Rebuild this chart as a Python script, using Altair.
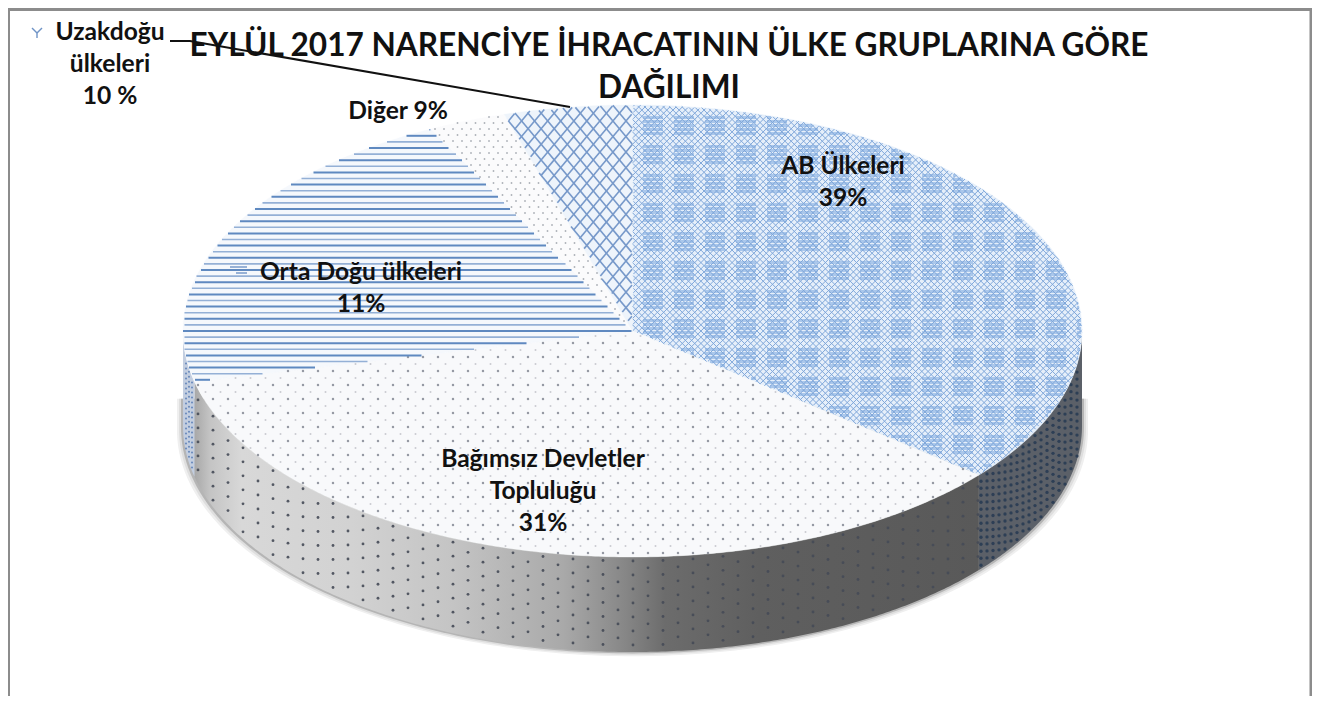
import math
import altair as alt
import pandas as pd

# ---- values ----
title_lines = ["EYLÜL 2017 NARENCİYE İHRACATININ ÜLKE GRUPLARINA GÖRE", "DAĞILIMI"]
categories = ["AB Ülkeleri", "Bağımsız Devletler Topluluğu", "Orta Doğu ülkeleri", "Diğer", "Uzakdoğu ülkeleri"]
# slice sizes as drawn (percent of the full turn, clockwise from 12 o'clock)
drawn_shares = [36.0, 35.4, 21.2, 2.8, 4.6]
label_texts = ["AB Ülkeleri\n39%", "Bağımsız Devletler\nTopluluğu\n31%", "Orta Doğu ülkeleri\n11%", "Diğer 9%", "Uzakdoğu\nülkeleri\n10 %"]
label_x = [843, 543, 361, 398, 110]
label_y = [167, 460, 273, 112, 33]
leader_x = [170, 190, 570]
leader_y = [41, 41, 107]
top_fill = ["#e6effa", "#f8f9fb", "#f5f8fc", "#fbfbfc", "#eef4fb"]
key_x = [32, 42, 37, 230, 236]
key_x2 = [37, 37, 37, 247, 247]
key_y = [28, 28, 33, 267, 273]
key_y2 = [33, 33, 38, 267, 273]

# ---- geometry of the tilted disc, page pixels ----
W, H = 1304, 688
CX, CY, RX, RY, DEPTH = 632.5, 331.0, 449.5, 226.0, 95.0

def U(px): return (px - CX) / RX
def V(py): return (py - CY) / RY

x_scale = alt.Scale(domain=[U(8), U(8 + W)], range=[0, W], nice=False, zero=False)
y_scale = alt.Scale(domain=[V(8), V(8 + H)], range=[0, H], nice=False, zero=False)
X = lambda f="x": alt.X(f"{f}:Q", scale=x_scale, axis=None)
Y = lambda f="y": alt.Y(f"{f}:Q", scale=y_scale, axis=None)

edges = [0.0]
for s in drawn_shares:
    edges.append(edges[-1] + s * 3.6)
edges[-1] = 360.0

def pt(deg):
    r = math.radians(deg)
    return math.sin(r), -math.cos(r)

def inside(u, v, a, b):
    if u * u + v * v > 1:
        return False
    ang = math.degrees(math.atan2(u, -v)) % 360
    return a <= ang <= b

def wedge(a, b):
    n = max(4, int((b - a) * 2))
    rows = [(0.0, 0.0)] + [pt(a + (b - a) * i / n) for i in range(n + 1)] + [(0.0, 0.0)]
    return pd.DataFrame([{"x": x, "y": y, "i": i} for i, (x, y) in enumerate(rows)])

def wall(a, b, a_min=90, a_max=270):
    a, b = max(a, a_min), min(b, a_max)
    n = max(4, int((b - a) * 2))
    rows = []
    for i in range(n + 1):
        x, y = pt(a + (b - a) * i / n)
        rows.append({"x": x, "y": y, "y2": y + DEPTH / RY})
    return pd.DataFrame(rows)

def polygon(df, color):
    return alt.Chart(df).mark_line(fill=color, stroke=color, strokeWidth=0.4, interpolate="linear").encode(
        x=X(), y=Y(), order="i:Q")

def hatch(a, b, angle_deg, spacing):
    """Segments of parallel lines clipped to a wedge, in unit coordinates."""
    t = math.radians(angle_deg)
    dx, dy = math.cos(t), math.sin(t)
    nx, ny = -dy, dx
    out = []
    reach = 520
    k = -int(reach / spacing)
    while k * spacing < reach:
        ox, oy = CX + nx * k * spacing, CY + ny * k * spacing
        first = last = None
        s = -reach
        while s <= reach:
            u, v = U(ox + dx * s), V(oy + dy * s)
            if inside(u, v, a, b):
                if first is None:
                    first = (u, v)
                last = (u, v)
            s += 1.5
        if first and last != first:
            out.append({"x": first[0], "y": first[1], "x2": last[0], "y2": last[1], "k": k})
        k += 1
    return pd.DataFrame(out)

def segs(df, color, width, opacity=1.0):
    return alt.Chart(df).mark_rule(color=color, strokeWidth=width, opacity=opacity).encode(
        x=X(), x2="x2:Q", y=Y(), y2="y2:Q")

def dots(a, b, px, py, cond=None):
    rows = []
    r = 0
    y = CY - RY
    while y <= CY + RY:
        x = CX - RX + (px / 2 if r % 2 else 0)
        while x <= CX + RX:
            if inside(U(x), V(y), a, b) and (cond is None or cond(r)):
                rows.append({"x": U(x), "y": V(y)})
            x += px
        y += py
        r += 1
    return pd.DataFrame(rows)

def pts(df, color, size, opacity=1.0):
    return alt.Chart(df).mark_point(filled=True, shape="circle", color=color, size=size, opacity=opacity, strokeWidth=0).encode(x=X(), y=Y())

def wall_dots(a, b, px, pd_):
    a, b = max(a, 90), min(b, 270)
    rows = []
    col = 0
    x = CX - RX
    while x <= CX + RX:
        u = U(x)
        if abs(u) < 1:
            top = math.sqrt(1 - u * u)
            ang = math.degrees(math.atan2(u, -top)) % 360
            if a <= ang <= b:
                d = 4 + (pd_ / 2 if col % 2 else 0)
                while d < DEPTH - 2:
                    rows.append({"x": u, "y": top + d / RY})
                    d += pd_
        x += px
        col += 1
    return pd.DataFrame(rows)

layers = []

# soft shadow under the disc
for off, col in [(6, "#efefef"), (4, "#dedede"), (2, "#b5b5b5")]:
    rows = []
    for i in range(0, 181):
        deg = 90 + i
        x, y = pt(deg)
        rows.append({"x": x * (RX + off) / RX, "y": y + (DEPTH + off * 0.7) / RY, "y2": 0.3})
    layers.append(alt.Chart(pd.DataFrame(rows)).mark_area(color=col, interpolate="linear").encode(x=X(), y=Y(), y2="y2:Q"))

# side wall
wall_stops = [(0.0, "#a8a8a8"), (0.02, "#c4c4c4"), (0.06, "#d8d8d8"), (0.2, "#d2d2d2"), (0.33, "#c4c4c4"),
              (0.47, "#a9a9a9"), (0.55, "#868686"), (0.6, "#6c6c6c"), (0.72, "#5f5f5f"), (1.0, "#595959")]
grad = alt.LinearGradient(gradient="linear", x1=0, x2=1, y1=0, y2=0,
                          stops=[alt.GradientStop(offset=o, color=c) for o, c in wall_stops])
layers.append(alt.Chart(wall(edges[1], edges[2])).mark_area(fill=grad, interpolate="linear").encode(x=X(), y=Y(), y2="y2:Q"))
layers.append(alt.Chart(wall(edges[0], edges[1])).mark_area(color="#5b6068", interpolate="linear").encode(x=X(), y=Y(), y2="y2:Q"))
layers.append(alt.Chart(wall(edges[2], edges[3])).mark_area(color="#c3cee0", interpolate="linear").encode(x=X(), y=Y(), y2="y2:Q"))
layers.append(pts(wall_dots(edges[1], edges[2], 15, 14), "#454a56", 8, 0.9))
layers.append(pts(wall_dots(edges[0], edges[1], 6, 7), "#2b3d54", 11, 0.95))
layers.append(pts(wall_dots(edges[2], edges[3], 3, 5), "#5c7fb6", 4, 0.9))

# top surface
for i in range(5):
    layers.append(polygon(wedge(edges[i], edges[i + 1]), top_fill[i]))

# AB: denser square patches under a lattice; each patch built from thin clipped rows
a, b = edges[0], edges[1]
patches = []
for ix in range(-3, 16):
    for iy in range(-8, 16):
        xc, yc = 653 + ix * 31, 155 + iy * 29
        row = yc - 10
        while row < yc + 10:
            xs = [xc - 10 + j for j in range(21) if inside(U(xc - 10 + j), V(row), a, b) and inside(U(xc - 10 + j), V(row + 3), a, b)]
            if len(xs) > 1:
                patches.append({"x": U(xs[0]), "x2": U(xs[-1]), "y": V(row), "y2": V(row + 3)})
            row += 4
layers.append(alt.Chart(pd.DataFrame(patches)).mark_rect(color="#9fc0e8", opacity=0.85).encode(x=X(), x2="x2:Q", y=Y(), y2="y2:Q"))
layers.append(segs(hatch(a, b, 45, 4.4), "#7ea6d9", 1.0))
layers.append(segs(hatch(a, b, -45, 4.4), "#7ea6d9", 1.0))

# Bağımsız Devletler: dots
a, b = edges[1], edges[2]
layers.append(pts(dots(a, b, 15, 7, lambda r: r % 2 == 0), "#8b8f9a", 6, 0.9))
layers.append(pts(dots(a, b, 15, 7, lambda r: r % 2 == 1), "#c4c7cc", 4, 0.9))

# Orta Doğu: horizontal lines
a, b = edges[2], edges[3]
lines = hatch(a, b, 0, 6.1)
layers.append(segs(lines[lines.k % 2 == 0], "#5f89c0", 2.0))
layers.append(segs(lines[lines.k % 2 != 0], "#94b0d6", 1.6))

# Diğer: fine dots
a, b = edges[3], edges[4]
layers.append(pts(dots(a, b, 9, 6), "#a3a8b0", 3.5, 0.9))

# Uzakdoğu: trellis
a, b = edges[4], edges[5]
layers.append(segs(hatch(a, b, 50, 10), "#7799ca", 1.6))
layers.append(segs(hatch(a, b, -50, 10), "#7799ca", 1.6))

# small pattern keys beside two labels
keys = pd.DataFrame({"x": [U(v) for v in key_x], "x2": [U(v) for v in key_x2],
                     "y": [V(v) for v in key_y], "y2": [V(v) for v in key_y2]})
layers.append(segs(keys, "#6f93c6", 1.4))

# leader line
leader = pd.DataFrame({"x": [U(v) for v in leader_x], "y": [V(v) for v in leader_y], "i": range(len(leader_x))})
layers.append(alt.Chart(leader).mark_line(color="#111111", strokeWidth=2).encode(x=X(), y=Y(), order="i:Q"))

# data labels
labels = pd.DataFrame({"category": categories, "text": label_texts,
                       "x": [U(v) for v in label_x], "y": [V(v) for v in label_y]})
layers.append(alt.Chart(labels).mark_text(font="Lato", fontWeight="bold", fontSize=24.6, color="#111111",
                                          lineBreak="\n", lineHeight=32, baseline="middle", align="center").encode(
    x=X(), y=Y(), text="text:N"))

# frame
frame_color = "#8c8c8c"
frame = pd.DataFrame({"k": [0]})
layers.append(alt.Chart(frame).mark_rule(color=frame_color, strokeWidth=3).encode(x=alt.value(0), x2=alt.value(W), y=alt.value(1.5)))
layers.append(alt.Chart(frame).mark_rule(color=frame_color, strokeWidth=2).encode(x=alt.value(1), y=alt.value(0), y2=alt.value(H)))
layers.append(alt.Chart(frame).mark_rule(color=frame_color, strokeWidth=3).encode(x=alt.value(1303), y=alt.value(0), y2=alt.value(H)))

chart = alt.layer(*layers).properties(
    width=W, height=H, padding=0,
    autosize=alt.AutoSizeParams(type="none"),
    title=alt.TitleParams(text=title_lines, font="Lato", fontWeight="bold", fontSize=31.6, color="#111111",
                          anchor="middle", frame="group", baseline="top", lineHeight=42, offset=-98, dx=9),
    background="white",
).configure_view(stroke=None)

chart.save("out.html", embed_options={"renderer": "svg", "actions": False})
